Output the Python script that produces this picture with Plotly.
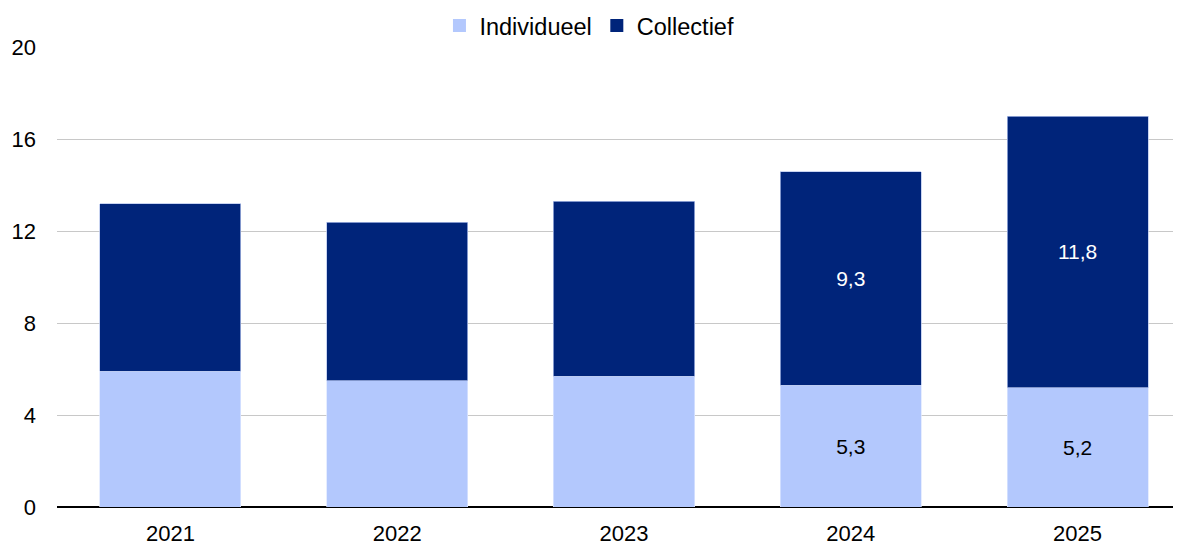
import plotly.graph_objects as go

years = ["2021", "2022", "2023", "2024", "2025"]
individueel = [5.9, 5.5, 5.7, 5.3, 5.2]
collectief = [7.3, 6.9, 7.6, 9.3, 11.8]
ind_labels = ["", "", "", "5,3", "5,2"]
col_labels = ["", "", "", "9,3", "11,8"]
series_names = ["Individueel", "Collectief"]

LIGHT = "#b3c8fd"
DARK = "#00247a"
FONT = "Liberation Sans, Arial, sans-serif"

fig = go.Figure()
fig.add_trace(go.Bar(
    x=years, y=individueel, name=series_names[0], showlegend=False,
    marker=dict(color=LIGHT, line=dict(color="rgba(220,230,255,0.9)", width=0.8)),
    text=ind_labels, textposition="inside", insidetextanchor="middle",
    textfont=dict(color="#000000", size=21, family=FONT),
    hoverinfo="x+y",
))
fig.add_trace(go.Bar(
    x=years, y=collectief, name=series_names[1], showlegend=False,
    marker=dict(color=DARK, line=dict(color="rgba(180,195,235,0.9)", width=0.8)),
    text=col_labels, textposition="inside", insidetextanchor="middle",
    textfont=dict(color="#ffffff", size=21, family=FONT),
    hoverinfo="x+y",
))
# legend entries with square swatches
for nm, col in zip(series_names, [LIGHT, DARK]):
    fig.add_trace(go.Scatter(
        x=[None], y=[None], mode="markers", name=nm,
        marker=dict(symbol="square", size=13, color=col),
        showlegend=True, hoverinfo="skip",
    ))

# page body has an 8px default margin, so the figure is sized to fit the window
fig.update_layout(
    barmode="stack",
    bargap=0.378,
    width=1173, height=536,
    margin=dict(l=49, r=0, t=39, b=37, autoexpand=False),
    paper_bgcolor="white", plot_bgcolor="white",
    font=dict(family=FONT, size=22, color="#000000"),
    legend=dict(
        orientation="h", xref="container", x=0.4957, xanchor="center",
        y=1.046, yanchor="middle",
        font=dict(size=23.5), itemwidth=30, traceorder="normal",
        bgcolor="rgba(0,0,0,0)", tracegroupgap=0,
    ),
    xaxis=dict(
        range=[-0.5, 4.456],
        showgrid=False, showline=False, ticks="", zeroline=False,
        tickfont=dict(size=22), ticklabelstandoff=11,
    ),
    yaxis=dict(
        range=[0, 20.02], tickvals=[0, 4, 8, 12, 16, 20],
        showgrid=True, gridcolor="#c8c8c8", gridwidth=1,
        zeroline=True, zerolinecolor="#000000", zerolinewidth=2,
        showline=False, ticks="", tickfont=dict(size=22),
        ticklabelstandoff=20,
    ),
)

fig.write_html("out.html")
